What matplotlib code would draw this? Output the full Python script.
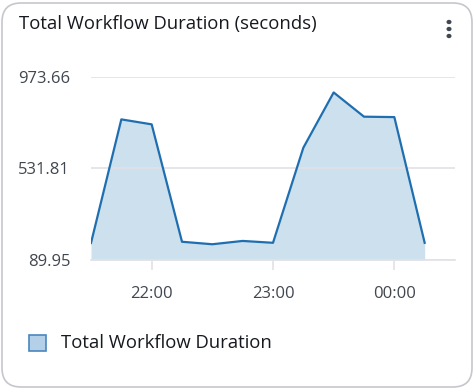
import matplotlib
matplotlib.use("Agg")
import matplotlib.pyplot as plt
from matplotlib.patches import FancyBboxPatch, Rectangle
from datetime import datetime

times = ["2024-01-01 21:30", "2024-01-01 21:45", "2024-01-01 22:00", "2024-01-01 22:15",
         "2024-01-01 22:30", "2024-01-01 22:45", "2024-01-01 23:00", "2024-01-01 23:15",
         "2024-01-01 23:30", "2024-01-01 23:45", "2024-01-02 00:00", "2024-01-02 00:15"]
values = [172, 769, 745, 178, 166, 182, 173, 632, 899, 782, 780, 173]
y_ticks = [89.95, 531.81, 973.66]
y_tick_labels = ["89.95", "531.81", "973.66"]
x_tick_times = ["2024-01-01 22:00", "2024-01-01 23:00", "2024-01-02 00:00"]
x_tick_labels = ["22:00", "23:00", "00:00"]
title = "Total Workflow Duration (seconds)"
series_name = "Total Workflow Duration"

plt.rcParams['font.family'] = ['Open Sans', 'DejaVu Sans']

W, H = 475, 389
fig = plt.figure(figsize=(W / 100, H / 100), dpi=100)
fig.patch.set_facecolor("white")

# card
card = FancyBboxPatch((2 / W, 2 / H), (W - 5) / W, (H - 5) / H,
                      boxstyle="round,pad=0,rounding_size=0.04",
                      transform=fig.transFigure, facecolor="white",
                      edgecolor="#c6c6cd", linewidth=1.2, mutation_aspect=W / H,
                      zorder=-10)
fig.patches.append(card)

fig.text(19 / W, 1 - 24 / H, title, fontsize=13.3, color="#16191f",
         va="center", ha="left")
# kebab menu
for yy in (22, 29, 36):
    fig.patches.append(plt.Circle((449 / W, 1 - yy / H), 1.8 / W,
                                  transform=fig.transFigure, color="#414750"))

t = [datetime.strptime(s, "%Y-%m-%d %H:%M") for s in times]
xt = [datetime.strptime(s, "%Y-%m-%d %H:%M") for s in x_tick_times]

ax = fig.add_axes([91 / W, 1 - 260 / H, (455 - 91) / W, (260 - 77) / H])
ax.set_facecolor("none")
ax.set_zorder(5)
ax.fill_between(t, y_ticks[0], values, color="#cde0ee", linewidth=0, zorder=2)
ax.plot(t, values, color="#1f6fb0", linewidth=1.6, zorder=3)

ax.set_xlim(datetime(2024, 1, 1, 21, 30), datetime(2024, 1, 2, 0, 30))
ax.set_ylim(y_ticks[0], y_ticks[-1])
ax.set_yticks(y_ticks)
ax.set_yticklabels(y_tick_labels)
ax.set_xticks(xt)
ax.set_xticklabels(x_tick_labels)
ax.grid(axis="y", color="#e1e1e6", linewidth=1.2, zorder=1)
ax.set_axisbelow(False)
for sp in ["top", "right", "left"]:
    ax.spines[sp].set_visible(False)
ax.spines["bottom"].set_color("#e1e1e6")
ax.spines["bottom"].set_linewidth(1.2)
ax.tick_params(axis="y", length=0, pad=15, labelsize=12, labelcolor="#414750")
ax.tick_params(axis="x", length=7.5, width=1.2, color="#e1e1e6", pad=11,
               labelsize=12, labelcolor="#414750")

# legend
fig.patches.append(Rectangle((29 / W, 1 - 351 / H), 17 / W, 16 / H,
                             transform=fig.transFigure, facecolor="#b3d0e8",
                             edgecolor="#4a86bf", linewidth=1.2))
fig.text(61 / W, 1 - 343 / H, series_name, fontsize=13.3, color="#16191f",
         va="center", ha="left")

fig.savefig("out.png", dpi=100)
